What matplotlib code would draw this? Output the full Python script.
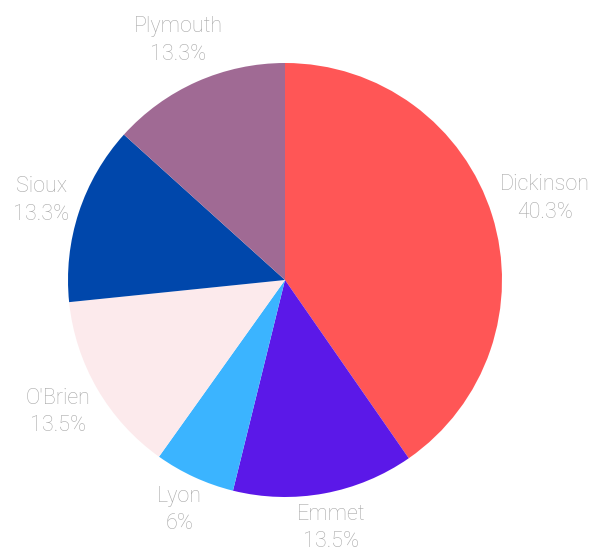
import numpy as np
import matplotlib.pyplot as plt

# county shares
counties = ["Dickinson", "Emmet", "Lyon", "O'Brien", "Sioux", "Plymouth"]
shares = [40.3, 13.5, 6, 13.5, 13.3, 13.3]
share_labels = ["40.3%", "13.5%", "6%", "13.5%", "13.3%", "13.3%"]
colors = ["#FF5656", "#5B18E8", "#3BB4FF", "#FCEAEC", "#0047AB", "#A06A94"]

R = 217
CX, CY = 285, 270
GAP = 5

fig = plt.figure(figsize=(5.96, 5.5), dpi=100)
ax = fig.add_axes([0, 0, 1, 1])

wedges, _ = ax.pie(shares, colors=colors, startangle=90, counterclock=False,
                   center=(CX, CY), radius=R, frame=True)
ax.set_xlim(0, 596)
ax.set_ylim(0, 550)
ax.set_aspect('equal')
ax.axis('off')

renderer = fig.canvas.get_renderer()
for w, name, pct in zip(wedges, counties, share_labels):
    mid = np.deg2rad((w.theta1 + w.theta2) / 2)
    c, s = np.cos(mid), np.sin(mid)
    t = ax.text(CX, CY, name + "\n" + pct, ha='center', va='center',
                color="#A8A8A8", fontsize=15.5, family="Roboto",
                fontweight="light", linespacing=1.4)
    bb = t.get_window_extent(renderer)
    # push the label out so its box just clears the rim
    d = R + GAP + abs(c) * bb.width / 2 + abs(s) * bb.height / 2
    t.set_position((CX + d * c, CY + d * s))

fig.savefig("out.png", dpi=100)
